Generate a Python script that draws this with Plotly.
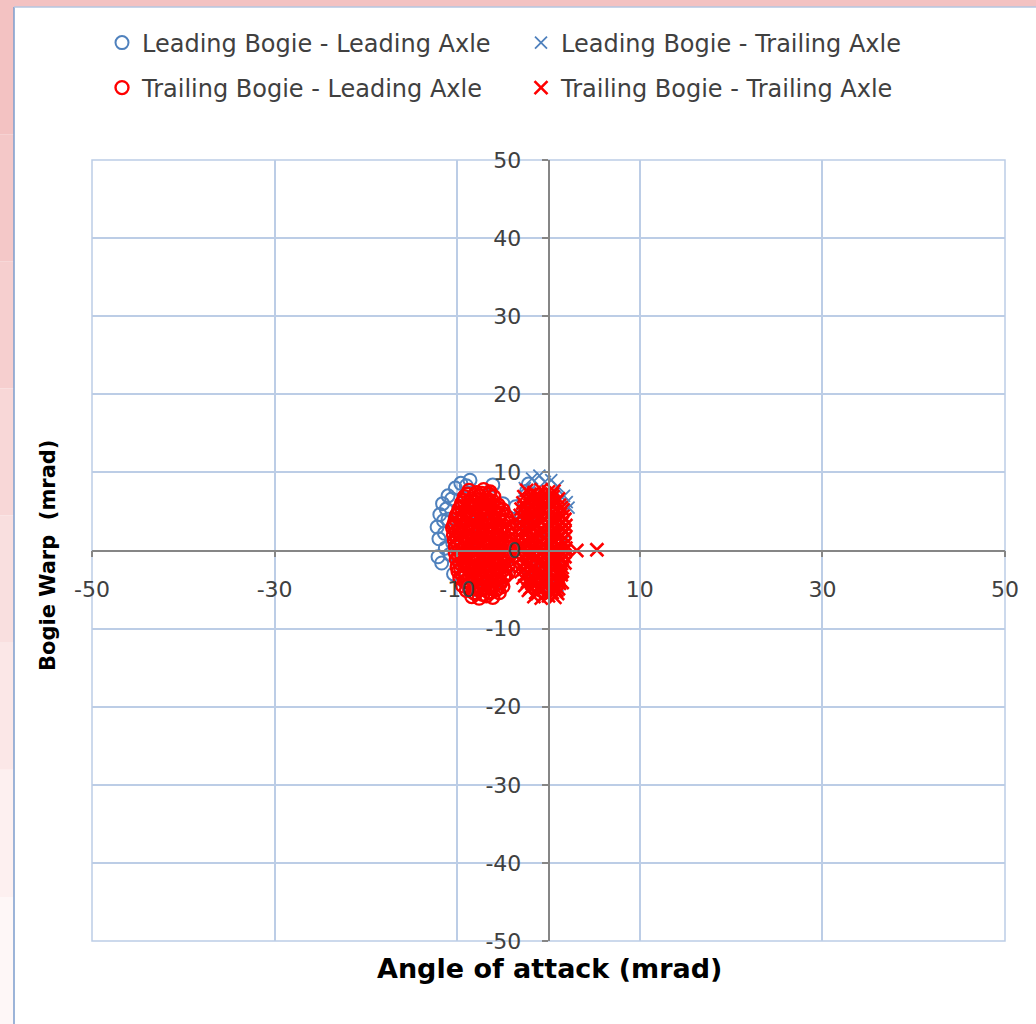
import plotly.graph_objects as go

# ---------------- data ----------------
lbla_x = [-12.2, -12.0, -11.9, -12.1, -11.6, -11.7, -11.4, -11.2, -11.0, -11.3, -11.5, -10.8,
          -10.6, -10.2, -9.6, -9.0, -8.6, -6.1, -3.6, -3.0, -2.7, -2.4, -3.4, -2.2,
          -11.0, -10.5, -10.0, -9.5, -9.0, -8.5, -8.0, -7.5, -7.0, -6.5, -6.0, -5.5, -5.0, -4.5, -4.0,
          -10.4, -9.2, -8.0, -6.8, -5.6, -4.4]
lbla_y = [3.0, 1.5, 4.6, -0.8, 6.0, -1.6, 2.2, 5.3, 7.0, 0.3, 3.8, -0.5,
          6.6, 8.0, 8.6, 8.3, 9.0, 8.4, 5.6, 4.6, 6.4, 7.6, 3.4, 8.5,
          4.0, 1.0, -1.0, 6.0, 3.0, 0.0, 5.0, 2.0, -2.0, 7.0, 4.0, 1.0, 6.0, -1.0, 3.0,
          -3.0, -4.0, -5.0, -3.0, -4.0, -2.0]

lbta_x = [-1.8, -1.0, -0.4, 0.3, -2.6, 1.0, 1.7, 2.0, 2.2, 1.2, 1.2, -2.5,
          -2.5, -1.5, -0.5, 0.5, 1.5, -2.0, -1.0, 0.0, 1.0, -2.5, -1.5, -0.5, 0.5, 1.5,
          -2.0, -1.0, 0.0, 1.0, -1.5, -0.5, 0.5]
lbta_y = [9.2, 9.6, 8.8, 9.0, 8.0, 8.2, 7.0, 6.2, 5.5, -4.0, -1.5, -3.0,
          4.0, 6.0, 2.0, 5.0, 1.0, -1.0, -3.0, 0.0, -2.0, 3.0, -4.5, 7.0, -4.0, 3.5,
          1.5, 4.5, -1.5, -4.5, -2.5, -5.0, 6.5]

tbla_x = [-8.7, -7.9, -7.1, -6.4,
          -9.2, -8.4, -7.6, -6.8, -6.0,
          -9.5, -8.8, -8.0, -7.2, -6.4, -5.5,
          -9.8, -9.0, -8.2, -7.5, -6.7, -5.9, -5.0,
          -10.1, -9.3, -8.6, -7.8, -7.0, -6.2, -5.4, -4.6,
          -10.3, -9.6, -8.8, -8.0, -7.3, -6.5, -5.7, -4.9, -4.3,
          -10.5, -9.8, -9.0, -8.2, -7.5, -6.7, -5.9, -5.1, -4.3,
          -10.4, -9.7, -8.9, -8.1, -7.3, -6.5, -5.7, -4.9, -4.2,
          -10.3, -9.5, -8.7, -7.9, -7.1, -6.3, -5.5, -4.7, -4.1,
          -10.2, -9.4, -8.6, -7.8, -7.0, -6.2, -5.4, -4.6, -4.1,
          -10.2, -9.5, -8.7, -7.9, -7.1, -6.3, -5.5, -4.7, -4.1,
          -10.1, -9.3, -8.5, -7.7, -6.9, -6.1, -5.3, -4.5,
          -10.0, -9.2, -8.4, -7.6, -6.8, -6.0, -5.2, -4.4,
          -9.9, -9.1, -8.3, -7.5, -6.7, -5.9, -5.1, -4.4,
          -9.7, -8.9, -8.1, -7.3, -6.5, -5.7, -4.9,
          -9.4, -8.6, -7.8, -7.0, -6.2, -5.4, -5.0,
          -9.0, -8.2, -7.4, -6.6, -5.8, -5.4,
          -8.4, -7.6, -6.8, -6.1,
          # staggered readings
          -8.9, -8.1, -7.3, -6.5,
          -9.3, -8.5, -7.7, -6.9, -6.1,
          -9.6, -8.8, -8.0, -7.2, -6.4, -5.6,
          -9.9, -9.1, -8.3, -7.5, -6.7, -5.9, -5.1,
          -10.2, -9.4, -8.6, -7.8, -7.0, -6.2, -5.4, -4.6,
          -10.4, -9.6, -8.8, -8.0, -7.2, -6.4, -5.6, -4.8,
          -10.1, -9.3, -8.5, -7.7, -6.9, -6.1, -5.3, -4.5,
          -10.0, -9.2, -8.4, -7.6, -6.8, -6.0, -5.2, -4.4,
          -9.9, -9.1, -8.3, -7.5, -6.7, -5.9, -5.1, -4.3,
          -9.8, -9.0, -8.2, -7.4, -6.6, -5.8, -5.0, -4.3,
          -9.8, -9.0, -8.2, -7.4, -6.6, -5.8, -5.0, -4.3,
          -9.7, -8.9, -8.1, -7.3, -6.5, -5.7, -4.9,
          -9.6, -8.8, -8.0, -7.2, -6.4, -5.6, -4.8,
          -9.4, -8.6, -7.8, -7.0, -6.2, -5.4, -4.7,
          -9.1, -8.3, -7.5, -6.7, -5.9, -5.2,
          -8.7, -7.9, -7.1, -6.3, -5.6,
          -8.0, -7.2, -6.4]
tbla_y = [7.7, 7.4, 7.8, 7.5,
          6.9, 6.6, 7.0, 6.7, 6.9,
          6.1, 5.8, 6.2, 5.9, 6.1, 5.8,
          5.3, 5.0, 5.4, 5.1, 5.3, 5.0, 5.2,
          4.5, 4.2, 4.6, 4.3, 4.5, 4.2, 4.6, 4.3,
          3.5, 3.8, 3.4, 3.7, 3.5, 3.8, 3.4, 3.7, 3.5,
          2.9, 2.6, 3.0, 2.7, 2.9, 2.6, 3.0, 2.7, 2.8,
          2.0, 2.2, 1.8, 2.1, 1.9, 2.2, 1.8, 2.1, 1.9,
          1.3, 1.0, 1.4, 1.1, 1.3, 1.0, 1.4, 1.1, 1.3,
          0.5, 0.2, 0.6, 0.3, 0.5, 0.2, 0.6, 0.3, 0.5,
          -0.3, -0.6, -0.2, -0.5, -0.3, -0.6, -0.2, -0.5, -0.3,
          -1.1, -1.4, -1.0, -1.3, -1.1, -1.4, -1.0, -1.3,
          -2.1, -1.8, -2.2, -1.9, -2.1, -1.8, -2.2, -1.9,
          -2.7, -3.0, -2.6, -2.9, -2.7, -3.0, -2.6, -2.9,
          -3.5, -3.8, -3.4, -3.7, -3.5, -3.8, -3.4,
          -4.5, -4.2, -4.6, -4.3, -4.5, -4.2, -4.6,
          -5.1, -5.4, -5.0, -5.3, -5.1, -5.4,
          -5.9, -6.1, -5.8, -6.0,
          # staggered readings
          7.2, 7.1, 7.3, 7.2,
          6.4, 6.3, 6.5, 6.4, 6.3,
          5.6, 5.7, 5.5, 5.6, 5.7, 5.5,
          4.8, 4.9, 4.7, 4.8, 4.9, 4.7, 4.8,
          4.0, 3.9, 4.1, 4.0, 3.9, 4.1, 4.0, 3.9,
          3.2, 3.1, 3.3, 3.2, 3.1, 3.3, 3.2, 3.1,
          2.4, 2.5, 2.3, 2.4, 2.5, 2.3, 2.4, 2.5,
          1.6, 1.5, 1.7, 1.6, 1.5, 1.7, 1.6, 1.5,
          0.8, 0.9, 0.7, 0.8, 0.9, 0.7, 0.8, 0.9,
          0.0, -0.1, 0.1, 0.0, -0.1, 0.1, 0.0, -0.1,
          -0.8, -0.7, -0.9, -0.8, -0.7, -0.9, -0.8, -0.7,
          -1.6, -1.7, -1.5, -1.6, -1.7, -1.5, -1.6,
          -2.4, -2.3, -2.5, -2.4, -2.3, -2.5, -2.4,
          -3.2, -3.3, -3.1, -3.2, -3.3, -3.1, -3.2,
          -4.0, -3.9, -4.1, -4.0, -3.9, -4.1,
          -4.8, -4.9, -4.7, -4.8, -4.9,
          -5.5, -5.6, -5.4]

tbta_x = [-2.4, -1.6, -0.8, 0.0, 0.6,
          -2.7, -1.9, -1.1, -0.3, 0.5, 1.1,
          -2.8, -2.0, -1.2, -0.4, 0.4, 1.2,
          -3.0, -2.2, -1.4, -0.6, 0.2, 1.0, 1.6,
          -3.1, -2.3, -1.5, -0.7, 0.1, 0.9, 1.6,
          -3.2, -2.4, -1.6, -0.8, 0.0, 0.8, 1.5,
          -3.2, -2.4, -1.6, -0.8, 0.0, 0.8, 1.6,
          -3.3, -2.5, -1.7, -0.9, -0.1, 0.7, 1.5,
          -3.3, -2.5, -1.7, -0.9, -0.1, 0.7, 1.5,
          -3.4, -2.6, -1.8, -1.0, -0.2, 0.6, 1.4, 1.9,
          -3.3, -2.5, -1.7, -0.9, -0.1, 0.7, 1.5,
          -3.2, -2.4, -1.6, -0.8, 0.0, 0.8, 1.5,
          -3.1, -2.3, -1.5, -0.7, 0.1, 0.9, 1.5,
          -3.0, -2.2, -1.4, -0.6, 0.2, 1.0, 1.5,
          -2.8, -2.0, -1.2, -0.4, 0.4, 1.2,
          -2.6, -1.8, -1.0, -0.2, 0.6, 1.2,
          -2.2, -1.4, -0.6, 0.2, 0.9,
          -1.6, -0.8, 0.0, 0.7,
          3.1, 5.3,
          # staggered readings
          -2.0, -1.2, -0.4, 0.4,
          -2.3, -1.5, -0.7, 0.1, 0.9,
          -2.6, -1.8, -1.0, -0.2, 0.6, 1.4,
          -2.7, -1.9, -1.1, -0.3, 0.5, 1.3,
          -2.8, -2.0, -1.2, -0.4, 0.4, 1.2, 1.8,
          -2.8, -2.0, -1.2, -0.4, 0.4, 1.2, 1.9,
          -2.9, -2.1, -1.3, -0.5, 0.3, 1.1, 1.8,
          -2.9, -2.1, -1.3, -0.5, 0.3, 1.1, 1.8,
          -3.0, -2.2, -1.4, -0.6, 0.2, 1.0, 1.8,
          -3.0, -2.2, -1.4, -0.6, 0.2, 1.0, 1.8,
          -2.9, -2.1, -1.3, -0.5, 0.3, 1.1, 1.8,
          -2.8, -2.0, -1.2, -0.4, 0.4, 1.2, 1.8,
          -2.7, -1.9, -1.1, -0.3, 0.5, 1.3,
          -2.6, -1.8, -1.0, -0.2, 0.6, 1.4,
          -2.3, -1.5, -0.7, 0.1, 0.9, 1.5,
          -2.0, -1.2, -0.4, 0.4, 1.1,
          -1.2, -0.4, 0.4, 1.0]
tbta_y = [7.7, 7.4, 7.8, 7.5, 7.6,
          6.9, 6.6, 7.0, 6.7, 6.9, 6.6,
          6.1, 5.8, 6.2, 5.9, 6.1, 5.8,
          5.3, 5.0, 5.4, 5.1, 5.3, 5.0, 5.2,
          4.5, 4.2, 4.6, 4.3, 4.5, 4.2, 4.4,
          3.5, 3.8, 3.4, 3.7, 3.5, 3.8, 3.5,
          2.9, 2.6, 3.0, 2.7, 2.9, 2.6, 2.8,
          2.0, 2.2, 1.8, 2.1, 1.9, 2.2, 1.9,
          1.3, 1.0, 1.4, 1.1, 1.3, 1.0, 1.3,
          0.5, 0.2, 0.6, 0.3, 0.5, 0.2, 0.5, 0.3,
          -0.3, -0.6, -0.2, -0.5, -0.3, -0.6, -0.2,
          -1.1, -1.4, -1.0, -1.3, -1.1, -1.4, -1.0,
          -2.1, -1.8, -2.2, -1.9, -2.1, -1.8, -2.2,
          -2.7, -3.0, -2.6, -2.9, -2.7, -3.0, -2.6,
          -3.5, -3.8, -3.4, -3.7, -3.5, -3.8,
          -4.5, -4.2, -4.6, -4.3, -4.5, -4.2,
          -5.1, -5.4, -5.0, -5.3, -5.1,
          -5.9, -6.1, -5.8, -6.0,
          0.0, 0.1,
          # staggered readings
          7.2, 7.1, 7.3, 7.2,
          6.4, 6.3, 6.5, 6.4, 6.3,
          5.6, 5.7, 5.5, 5.6, 5.7, 5.5,
          4.8, 4.9, 4.7, 4.8, 4.9, 4.7,
          4.0, 3.9, 4.1, 4.0, 3.9, 4.1, 4.0,
          3.2, 3.1, 3.3, 3.2, 3.1, 3.3, 3.2,
          2.4, 2.5, 2.3, 2.4, 2.5, 2.3, 2.4,
          1.6, 1.5, 1.7, 1.6, 1.5, 1.7, 1.6,
          0.8, 0.9, 0.7, 0.8, 0.9, 0.7, 0.8,
          0.0, -0.1, 0.1, 0.0, -0.1, 0.1, 0.0,
          -0.8, -0.7, -0.9, -0.8, -0.7, -0.9, -0.8,
          -1.6, -1.7, -1.5, -1.6, -1.7, -1.5, -1.6,
          -2.4, -2.3, -2.5, -2.4, -2.3, -2.5,
          -3.2, -3.3, -3.1, -3.2, -3.3, -3.1,
          -4.0, -3.9, -4.1, -4.0, -3.9, -4.1,
          -4.8, -4.9, -4.7, -4.8, -4.9,
          -5.5, -5.6, -5.4, -5.5]

series_names = ["Leading Bogie - Leading Axle", "Leading Bogie - Trailing Axle",
                "Trailing Bogie - Leading Axle", "Trailing Bogie - Trailing Axle"]
x_tickvals = [-50, -30, -10, 10, 30, 50]
x_ticktext = ["-50", "-30", "-10", "10", "30", "50"]
y_tickvals = [-50, -40, -30, -20, -10, 0, 10, 20, 30, 40, 50]
y_ticktext = ["-50", "-40", "-30", "-20", "-10", "0", "10", "20", "30", "40", "50"]
x_title = "Angle of attack (mrad)"
y_title = "Bogie Warp  (mrad)"

# ---------------- layout helpers ----------------
W, H = 1036, 1024
L, R, T, B = 92, 31, 160, 83
PW, PH = W - L - R, H - T - B


def fx(px):
    return (px - L) / PW


def fy(py):
    return 1 - (py - T) / PH


BLUE = "#4f81bd"
RED = "#ff0000"
FONT = "DejaVu Sans"
GRID = "#bccde6"
AXIS = "#868686"

fig = go.Figure()
fig.add_trace(go.Scatter(x=lbla_x, y=lbla_y, mode="markers", name=series_names[0],
                         marker=dict(symbol="circle-open", size=13, color=BLUE, line=dict(width=2)),
                         legend="legend"))
fig.add_trace(go.Scatter(x=lbta_x, y=lbta_y, mode="markers", name=series_names[1],
                         marker=dict(symbol="x-thin", size=12, color=BLUE, line=dict(width=1.8, color=BLUE)),
                         legend="legend"))
fig.add_trace(go.Scatter(x=tbla_x, y=tbla_y, mode="markers", name=series_names[2],
                         marker=dict(symbol="circle-open", size=13, color=RED, line=dict(width=2.4)),
                         legend="legend2"))
fig.add_trace(go.Scatter(x=tbta_x, y=tbta_y, mode="markers", name=series_names[3],
                         marker=dict(symbol="x-thin", size=13, color=RED, line=dict(width=2.6, color=RED)),
                         legend="legend2"))

tickfont = dict(family=FONT, size=22, color="#404040")
legfont = dict(family=FONT, size=24, color="#404040")

shapes = []
# slide background (pink frame, fading towards the bottom on the left edge)
bands = ["#f3c2c2", "#f4c8c8", "#f6cfcf", "#f8d7d7", "#f9dfdf", "#fbe7e7", "#fdf0f0", "#fef7f7"]
n = len(bands)
for i, c in enumerate(bands):
    y0 = 7 + (H - 7) * i / n
    y1 = 7 + (H - 7) * (i + 1) / n
    shapes.append(dict(type="rect", xref="paper", yref="paper", x0=fx(0), x1=fx(14),
                       y0=fy(y1), y1=fy(y0), fillcolor=c, line=dict(width=0), layer="below"))
shapes.append(dict(type="rect", xref="paper", yref="paper", x0=fx(0), x1=fx(W),
                   y0=fy(7), y1=fy(0), fillcolor="#f3c2c2", line=dict(width=0), layer="below"))
shapes.append(dict(type="line", xref="paper", yref="paper", x0=fx(14), x1=fx(14),
                   y0=fy(H), y1=fy(7), line=dict(color="#7b9ccc", width=1.5)))
shapes.append(dict(type="line", xref="paper", yref="paper", x0=fx(14), x1=fx(W),
                   y0=fy(7), y1=fy(7), line=dict(color="#b4c6e0", width=1.5)))
# plot-area border
shapes.append(dict(type="rect", xref="paper", yref="paper", x0=0, x1=1, y0=0, y1=1,
                   line=dict(color=GRID, width=1.5), layer="below"))

annotations = [
    dict(text="<b>" + x_title + "</b>", xref="paper", yref="paper", x=fx(549), y=fy(968),
         xanchor="center", yanchor="middle", showarrow=False,
         font=dict(family=FONT, size=27, color="#000000")),
    dict(text="<b>" + y_title + "</b>", xref="paper", yref="paper", x=fx(48), y=fy(556),
         xanchor="center", yanchor="middle", showarrow=False, textangle=-90,
         font=dict(family=FONT, size=21, color="#000000")),
]

legend_common = dict(orientation="h", xanchor="left", yanchor="middle",
                     entrywidth=374, entrywidthmode="pixels", font=legfont,
                     bgcolor="rgba(0,0,0,0)", itemclick=False, itemdoubleclick=False)

fig.update_layout(
    width=W, height=H,
    margin=dict(l=L, r=R, t=T, b=B, pad=0),
    paper_bgcolor="white", plot_bgcolor="white",
    showlegend=True,
    legend=dict(x=fx(102), y=fy(43), **legend_common),
    legend2=dict(x=fx(102), y=fy(88), **legend_common),
    xaxis=dict(range=[-50, 50], tickmode="array", tickvals=x_tickvals, ticktext=x_ticktext,
               anchor="free", position=0.5,
               showline=True, linecolor=AXIS, linewidth=1.5,
               ticks="outside", ticklen=6, tickcolor=AXIS, tickwidth=1.5,
               showgrid=True, gridcolor=GRID, gridwidth=1.5, zeroline=False,
               tickfont=tickfont, ticklabelstandoff=13),
    yaxis=dict(range=[-50, 50], tickmode="array", tickvals=y_tickvals, ticktext=y_ticktext,
               anchor="free", position=0.5,
               showline=True, linecolor=AXIS, linewidth=1.5,
               ticks="outside", ticklen=6, tickcolor=AXIS, tickwidth=1.5,
               showgrid=True, gridcolor=GRID, gridwidth=1.5, zeroline=False,
               tickfont=tickfont, ticklabelstandoff=16),
    shapes=shapes,
    annotations=annotations,
)

fig.write_html("out.html", config={"displayModeBar": False},
               post_script="document.body.style.margin='0';document.body.style.padding='0';"
                           "document.body.style.overflow='hidden';")
